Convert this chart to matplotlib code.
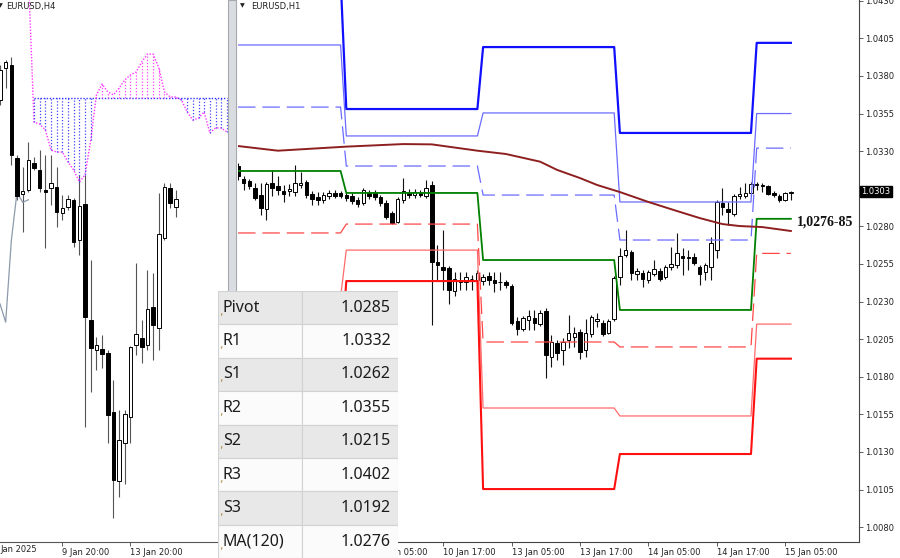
import matplotlib
matplotlib.use('Agg')
import matplotlib.pyplot as plt
import matplotlib.transforms as mtransforms
from matplotlib.patches import Rectangle
import numpy as np

plt.rcParams['font.family'] = ['DejaVu Sans']

# ---------------- EURUSD,H1 (right panel) ----------------
# bar 0 = left edge of the panel, bar 96 = 15 Jan 05:00
h1_open = [1.03201, 1.03115, 1.03102, 1.03055, 1.03008, 1.02915, 1.03088, 1.03068, 1.03035, 1.03035,
           1.03028, 1.03075, 1.03095, 1.03015, 1.02995, 1.02975, 1.03002, 1.03022, 1.03022, 1.03008,
           1.03002, 1.02975, 1.02955, 1.03022, 1.03022, 1.02995, 1.02955, 1.02889, 1.02829, 1.02975,
           1.03022, 1.03008, 1.03022, 1.03002, 1.03075, 1.02563, 1.02529, 1.02523, 1.02370, 1.02443,
           1.02430, 1.02448, 1.02443, 1.02436, 1.02470, 1.02443, 1.02432, 1.02430, 1.02403, 1.02170,
           1.02117, 1.02177, 1.02190, 1.02150, 1.02237, 1.01931, 1.02024, 1.01978, 1.02044, 1.02064,
           1.02097, 1.01978, 1.02084, 1.02170, 1.02157, 1.02091, 1.02184, 1.02463, 1.02609, 1.02629,
           1.02483, 1.02490, 1.02443, 1.02483, 1.02503, 1.02463, 1.02529, 1.02543, 1.02600, 1.02590,
           1.02596, 1.02529, 1.02496, 1.02529, 1.02642, 1.02955, 1.02915, 1.02882, 1.03002, 1.03002,
           1.03022, 1.03075, 1.03075, 1.03068, 1.03022, 1.03002, 1.02975, 1.03024]
h1_high = [1.03221, 1.03135, 1.03115, 1.03088, 1.03088, 1.03095, 1.03175, 1.03135, 1.03075, 1.03081,
           1.03208, 1.03161, 1.03108, 1.03035, 1.03028, 1.03028, 1.03042, 1.03042, 1.03035, 1.03028,
           1.03022, 1.02995, 1.03055, 1.03042, 1.03042, 1.03008, 1.02975, 1.02902, 1.02995, 1.03121,
           1.03048, 1.03048, 1.03042, 1.03108, 1.03102, 1.02676, 1.02775, 1.02536, 1.02496, 1.02496,
           1.02496, 1.02476, 1.02509, 1.02483, 1.02496, 1.02496, 1.02496, 1.02443, 1.02416, 1.02197,
           1.02204, 1.02244, 1.02244, 1.02244, 1.02257, 1.02077, 1.02044, 1.02057, 1.02210, 1.02130,
           1.02117, 1.02184, 1.02210, 1.02224, 1.02177, 1.02184, 1.02470, 1.02656, 1.02775, 1.02642,
           1.02523, 1.02509, 1.02509, 1.02576, 1.02523, 1.02543, 1.02662, 1.02756, 1.02656, 1.02642,
           1.02623, 1.02543, 1.02556, 1.02729, 1.02975, 1.03055, 1.02962, 1.03015, 1.03061, 1.03088,
           1.03095, 1.03095, 1.03088, 1.03075, 1.03035, 1.03015, 1.03028, 1.03034]
h1_low = [1.03108, 1.03042, 1.03048, 1.02975, 1.02875, 1.02842, 1.03002, 1.03008, 1.02962, 1.03002,
          1.03002, 1.03055, 1.02988, 1.02942, 1.02942, 1.02955, 1.02982, 1.02988, 1.02988, 1.02968,
          1.02948, 1.02928, 1.02942, 1.02982, 1.02975, 1.02935, 1.02849, 1.02815, 1.02822, 1.02955,
          1.02988, 1.02988, 1.02995, 1.02988, 1.02144, 1.02443, 1.02377, 1.02283, 1.02337, 1.02377,
          1.02377, 1.02377, 1.02416, 1.02410, 1.02410, 1.02363, 1.02377, 1.02390, 1.02144, 1.02077,
          1.02104, 1.02110, 1.02110, 1.02137, 1.01791, 1.01865, 1.01911, 1.01878, 1.01991, 1.01998,
          1.01918, 1.01931, 1.02064, 1.02130, 1.02071, 1.02084, 1.02170, 1.02410, 1.02596, 1.02443,
          1.02443, 1.02396, 1.02423, 1.02470, 1.02436, 1.02450, 1.02509, 1.02523, 1.02476, 1.02509,
          1.02543, 1.02410, 1.02443, 1.02443, 1.02589, 1.02875, 1.02809, 1.02869, 1.02982, 1.02988,
          1.03002, 1.03042, 1.03028, 1.03008, 1.02995, 1.02962, 1.02968, 1.02975]
h1_close = [1.03135, 1.03088, 1.03068, 1.02988, 1.02922, 1.03081, 1.03055, 1.03042, 1.03015, 1.03048,
            1.03088, 1.03088, 1.03008, 1.02982, 1.02975, 1.03008, 1.03022, 1.03002, 1.03002, 1.02988,
            1.02968, 1.02948, 1.03042, 1.03002, 1.02995, 1.02955, 1.02862, 1.02822, 1.02982, 1.03035,
            1.03008, 1.03028, 1.03008, 1.03055, 1.02563, 1.02543, 1.02509, 1.02377, 1.02450, 1.02430,
            1.02463, 1.02452, 1.02490, 1.02463, 1.02443, 1.02423, 1.02428, 1.02410, 1.02157, 1.02117,
            1.02190, 1.02204, 1.02157, 1.02224, 1.01944, 1.02031, 1.01958, 1.02031, 1.02091, 1.02091,
            1.01964, 1.02091, 1.02197, 1.02184, 1.02084, 1.02170, 1.02456, 1.02603, 1.02642, 1.02490,
            1.02503, 1.02450, 1.02496, 1.02516, 1.02450, 1.02529, 1.02549, 1.02623, 1.02590, 1.02596,
            1.02556, 1.02483, 1.02543, 1.02689, 1.02962, 1.02928, 1.02895, 1.03002, 1.03015, 1.03022,
            1.03081, 1.03081, 1.03068, 1.03015, 1.03008, 1.02975, 1.03022, 1.03030]

h1_tick_bars = [24, 36, 48, 60, 72, 84, 96]
h1_tick_labels = ['10 Jan 05:00', '10 Jan 17:00', '13 Jan 05:00', '13 Jan 17:00',
                  '14 Jan 05:00', '14 Jan 17:00', '15 Jan 05:00']

# daily pivot levels (9, 10, 13, 14, 15 Jan) and number of H1 bars of each day
day_len = [19, 24, 24, 24, 7]
pivot = [1.03168, 1.03022, 1.02576, 1.02244, 1.0285]
r1 = [1.03593, 1.03201, 1.03008, 1.02709, 1.0332]
r2 = [1.04006, 1.03401, 1.03554, 1.02962, 1.0355]
r3 = [1.04450, 1.03580, 1.03992, 1.03421, 1.0402]
s1 = [1.02756, 1.02815, 1.02031, 1.01998, 1.0262]
s2 = [1.02330, 1.02642, 1.01592, 1.01539, 1.0215]
s3 = [1.01900, 1.02436, 1.01053, 1.01286, 1.0192]

ma_bars = [0, 7, 19, 29, 34, 42, 47, 53, 56, 60, 63, 67, 72, 77, 81, 85, 88, 92, 97]
ma_vals = [1.03334, 1.03303, 1.03330, 1.03347, 1.03345, 1.03303, 1.03281, 1.03230, 1.03175,
           1.03121, 1.03075, 1.03028, 1.02962, 1.02902, 1.02855, 1.02815, 1.02802, 1.02795, 1.02769]

# 1.0305 is hidden behind the current price box
h1_yticks = [1.0080, 1.0105, 1.0130, 1.0155, 1.0180, 1.0205, 1.0230, 1.0255, 1.0280,
             1.0330, 1.0355, 1.0380, 1.0405, 1.0430]
last_price = 1.0303

# ---------------- EURUSD,H4 (left panel) ----------------
h4_open = [1.03423, 1.03549, 1.03561, 1.03194, 1.03053, 1.03068, 1.03175, 1.03147, 1.03068, 1.03076,
           1.03080, 1.02978, 1.03001, 1.03029, 1.02871, 1.03013, 1.02556, 1.02438, 1.02442, 1.02426,
           1.02194, 1.01922, 1.02072, 1.02174, 1.02458, 1.02485, 1.02458, 1.02607, 1.02525, 1.02879,
           1.03076, 1.03001]
h4_high = [1.03561, 1.03581, 1.03592, 1.03206, 1.03159, 1.03258, 1.03198, 1.03226, 1.03206, 1.03206,
           1.03159, 1.03049, 1.03049, 1.03037, 1.03128, 1.03128, 1.02793, 1.02489, 1.02497, 1.02438,
           1.02320, 1.02202, 1.02202, 1.02454, 1.02781, 1.02556, 1.02753, 1.02741, 1.03057, 1.03096,
           1.03096, 1.03068]
h4_low = [1.03403, 1.03470, 1.03167, 1.03029, 1.02903, 1.03061, 1.03147, 1.03061, 1.02840, 1.03009,
          1.02923, 1.02950, 1.02990, 1.02844, 1.02812, 1.02135, 1.02273, 1.02359, 1.02367, 1.02072,
          1.01776, 1.01859, 1.01910, 1.02072, 1.02418, 1.02387, 1.02438, 1.02399, 1.02438, 1.02871,
          1.02998, 1.02962]
h4_close = [1.03541, 1.03573, 1.03206, 1.03045, 1.03064, 1.03187, 1.03155, 1.03076, 1.03061, 1.03096,
            1.02982, 1.02998, 1.03033, 1.02864, 1.03005, 1.02568, 1.02446, 1.02458, 1.02422, 1.02182,
            1.01926, 1.02083, 1.02186, 1.02450, 1.02501, 1.02450, 1.02599, 1.02537, 1.02895, 1.03080,
            1.03017, 1.03033]

# Ichimoku cloud
span_a_bars = list(range(5, 41))
span_a = [1.03920, 1.03336, 1.03328, 1.03305, 1.03226, 1.03218, 1.03218, 1.03179, 1.03147, 1.03100,
          1.03128, 1.03265, 1.03443, 1.03486, 1.03455, 1.03443, 1.03470, 1.03502, 1.03522, 1.03533,
          1.03573, 1.03604, 1.03604, 1.03549, 1.03455, 1.03435, 1.03435, 1.03423, 1.03376, 1.03344,
          1.03352, 1.03376, 1.03293, 1.03313, 1.03313, 1.03297]
span_b_bars = list(range(6, 41))
span_b = [1.03431] * 35
chikou = [1.02620, 1.02548, 1.02870, 1.03060, 1.03020, 1.03030]

h4_tick_bars = [11, 23]
h4_tick_labels = ['9 Jan 20:00', '13 Jan 20:00']

# levels table
lvl_names = ['Pivot', 'R1', 'S1', 'R2', 'S2', 'R3', 'S3', 'MA(120)']
lvl_values = ['1.0285', '1.0332', '1.0262', '1.0355', '1.0215', '1.0402', '1.0192', '1.0276']


def px(x, y, w, h):
    # pixel box (top-left origin) -> figure fraction
    return [x / 900, 1 - (y + h) / 558, w / 900, h / 558]


def candles(ax, o, hi, lo, c, wick):
    x = np.arange(len(o))
    o = np.array(o)
    c = np.array(c)
    up = c >= o
    ax.vlines(x, lo, hi, color=wick, lw=0.8, zorder=2)
    ax.bar(x, np.maximum(np.abs(c - o), 0.00003), bottom=np.minimum(o, c), width=0.62,
           color=np.where(up, 'white', 'black'), edgecolor='black', linewidth=0.7, zorder=3)


fig = plt.figure(figsize=(9, 5.58), dpi=100)

# ---- H4 panel ----
ax4 = fig.add_axes(px(0, 0, 228, 542))
ax4.set_xlim(0, 40.2)
ax4.set_ylim(1.01682, 1.03817)
candles(ax4, h4_open, h4_high, h4_low, h4_close, '#555555')
ax4.plot(range(len(chikou)), chikou, color='#8c9aab', lw=0.9, zorder=2)
ax4.plot(span_a_bars, span_a, color='#ff33ff', lw=1.0, ls=(0, (1, 1.2)), zorder=4)
ax4.plot(span_b_bars, span_b, color='#3333ff', lw=1.0, ls=(0, (1, 1.2)), zorder=4)
for j, b in zip(span_b_bars, span_b):
    a = span_a[span_a_bars.index(j)]
    col = '#ff44ff' if a > b else '#4444ff'
    ax4.vlines(j, min(a, b), max(a, b), color=col, lw=0.9, linestyles=(0, (1, 1.5)), zorder=4)
ax4.set_yticks([])
ax4.set_xticks(h4_tick_bars)
ax4.set_xticklabels(h4_tick_labels)
ax4.tick_params(axis='x', length=3, width=0.6, color='#444444', labelsize=6, pad=1.5, labelcolor='#222222')
for lab in ax4.get_xticklabels():
    lab.set_horizontalalignment('left')
for s in ['top', 'left', 'right']:
    ax4.spines[s].set_visible(False)
ax4.spines['bottom'].set_color('#555555')
ax4.spines['bottom'].set_linewidth(0.8)
fig.text(0.5 / 900, 1 - 550 / 558, 'Jan 2025', fontsize=6, color='#222222', va='center', ha='left')
fig.text(-2 / 900, 1 - 6 / 558, '\u25bc', fontsize=4.5, color='#222222', va='center')
fig.text(6 / 900, 1 - 6 / 558, 'EURUSD,H4', fontsize=6, color='#222222', va='center')

# divider between the two windows
fig.patches.append(Rectangle((228 / 900, 16 / 558), 8 / 900, 542 / 558, transform=fig.transFigure,
                             facecolor='#d9dde2', edgecolor='#a5a9ad', lw=0.8, zorder=5))

# ---- H1 panel ----
ax1 = fig.add_axes(px(238, 0, 621, 542))
ax1.set_xlim(0, 108.95)
ax1.set_ylim(1.00701, 1.04305)
candles(ax1, h1_open, h1_high, h1_low, h1_close, '#111111')

bars = np.arange(len(h1_open))
levels = [
    (r3, '#1010ff', 1.6, None),
    (r2, '#6b6bff', 0.9, None),
    (r1, '#6b6bff', 0.9, (14, 5.5)),
    (pivot, '#008000', 1.3, None),
    (s1, '#ff4747', 0.9, (14, 5.5)),
    (s2, '#ff6b6b', 0.9, None),
    (s3, '#ff1010', 1.5, None),
]
for vals, col, lw, dash in levels:
    series = np.repeat(vals, day_len)
    line, = ax1.plot(bars, series, color=col, lw=lw, zorder=4)
    if dash:
        line.set_dashes(dash)
ax1.plot(ma_bars, ma_vals, color='#8e1f1f', lw=1.4, zorder=5)

ax1.text(98.1, 1.02829, '1,0276-85', family='Liberation Serif', fontweight='bold',
         fontsize=10, color='#111111', va='center', ha='left', zorder=6)

ax1.yaxis.tick_right()
ax1.set_yticks(h1_yticks)
ax1.set_yticklabels(['%.4f' % v for v in h1_yticks])
ax1.tick_params(axis='y', length=3, width=0.6, color='#444444', labelsize=6, pad=1.5, labelcolor='#222222')
ax1.set_xticks(h1_tick_bars)
ax1.set_xticklabels(h1_tick_labels)
ax1.tick_params(axis='x', length=3, width=0.6, color='#444444', labelsize=6, pad=1.5, labelcolor='#222222')
for lab in ax1.get_xticklabels():
    lab.set_horizontalalignment('left')
for s in ['top', 'left']:
    ax1.spines[s].set_visible(False)
for s in ['bottom', 'right']:
    ax1.spines[s].set_color('#444444')
    ax1.spines[s].set_linewidth(0.8)

trans = mtransforms.blended_transform_factory(ax1.transAxes, ax1.transData)
ax1.text(1.004, last_price, '%.4f' % last_price, transform=trans, fontsize=6, color='white',
         va='center', ha='left', bbox=dict(boxstyle='square,pad=0.15', fc='black', ec='black'),
         clip_on=False, zorder=7)
fig.text(240 / 900, 1 - 6 / 558, '\u25bc', fontsize=4.5, color='#222222', va='center')
fig.text(251 / 900, 1 - 6 / 558, 'EURUSD,H1', fontsize=6, color='#222222', va='center')

# ---- levels table ----
tab = fig.add_axes(px(218, 291, 180, 267))
tab.set_zorder(10)
tab.set_xlim(0, 180)
tab.set_ylim(267, 0)
tab.axis('off')
row_h = 33.4
for i, (name, val) in enumerate(zip(lvl_names, lvl_values)):
    face = '#e8e8e8' if i % 2 == 0 else '#fbfbfb'
    y0 = i * row_h
    tab.add_patch(Rectangle((0, y0), 84, row_h, facecolor=face, edgecolor='#d2d2d2', lw=0.8))
    tab.add_patch(Rectangle((84, y0), 96, row_h, facecolor=face, edgecolor='#d2d2d2', lw=0.8))
    tab.text(1, y0 + row_h / 2 + 4, ',', fontsize=8, color='#b08a4a', va='center', ha='left')
    tab.text(5, y0 + row_h / 2, name, family='Noto Sans', fontsize=11.5, color='#1c1c1c',
             va='center', ha='left')
    tab.text(173, y0 + row_h / 2, val, family='Noto Sans', fontsize=11.5, color='#1c1c1c',
             va='center', ha='right')

fig.savefig('out.png', dpi=100, facecolor='white')
